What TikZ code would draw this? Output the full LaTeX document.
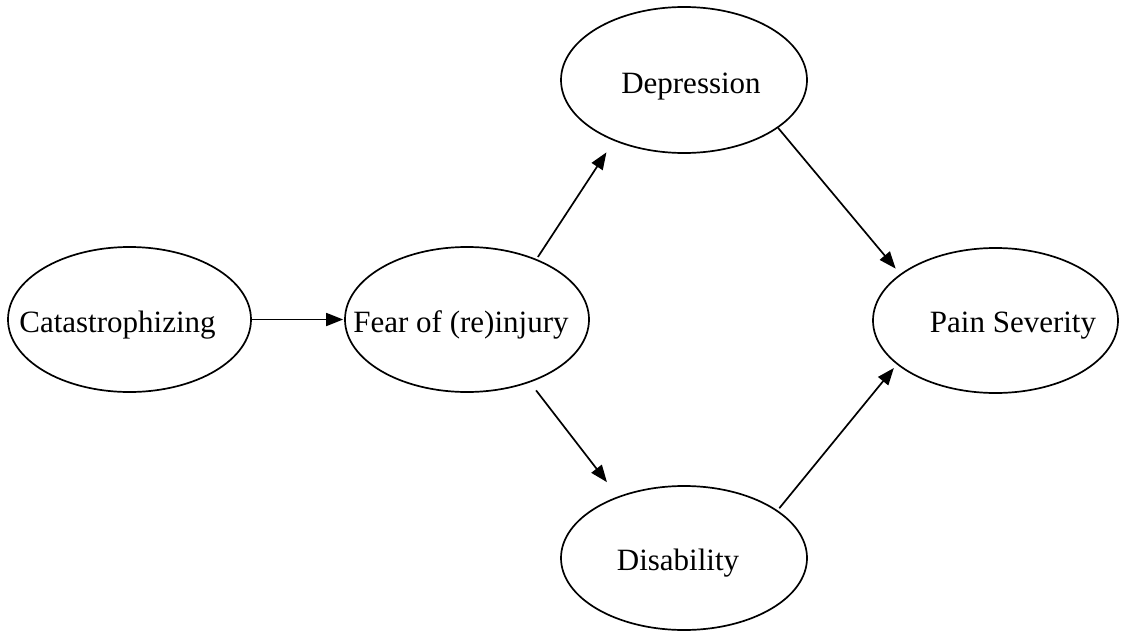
\documentclass[tikz,border=0pt]{standalone}
\usepackage{fontspec}
\setmainfont{Liberation Serif}
\usetikzlibrary{shapes.geometric,arrows.meta}
\begin{document}
\begin{tikzpicture}[x=1pt,y=-1pt,
  oval/.style={draw, ellipse, line width=1.7pt, inner sep=0pt},
  lbl/.style={inner sep=0pt, anchor=base, font=\fontsize{31}{37}\selectfont},
  arr/.style={line width=1.7pt, -{Triangle[length=17pt,width=13pt]}}
]
\useasboundingbox (0,0) rectangle (1122,634);
% ellipses
\node[oval, minimum width=243pt, minimum height=145pt] (cat) at (129.5,319.5) {};
\node[oval, minimum width=244pt, minimum height=145pt] (fear) at (467,319.5) {};
\node[oval, minimum width=246pt, minimum height=146pt] (dep) at (684,80) {};
\node[oval, minimum width=246pt, minimum height=144pt] (dis) at (684,558) {};
\node[oval, minimum width=245pt, minimum height=145pt] (pain) at (995.5,320.5) {};
% labels
\node[lbl] (catT) at (117.5,332) {Catastrophizing};
\node[lbl] (fearT) at (461,332) {Fear of (re)injury};
\node[lbl] (depT) at (691,93) {Depression};
\node[lbl] (disT) at (678,570) {Disability};
\node[lbl] (painT) at (1013,332) {Pain Severity};
% connectors
\draw[arr, shorten >=1pt] (cat.east) -- (fear.west);
\draw[arr, shorten <=2.5pt, shorten >=13.7pt] (fear.41.35) -- (dep.221.6);
\draw[arr, shorten <=10pt, shorten >=18pt] (fear.-45.2) -- (dis.137.9);
\draw[arr, shorten >=7pt] (dep.-27.05) -- (pain.154.9);
\draw[arr, shorten <=2.7pt, shorten >=4.6pt] (dis.27.45) -- (pain.204.3);
\end{tikzpicture}
\end{document}
